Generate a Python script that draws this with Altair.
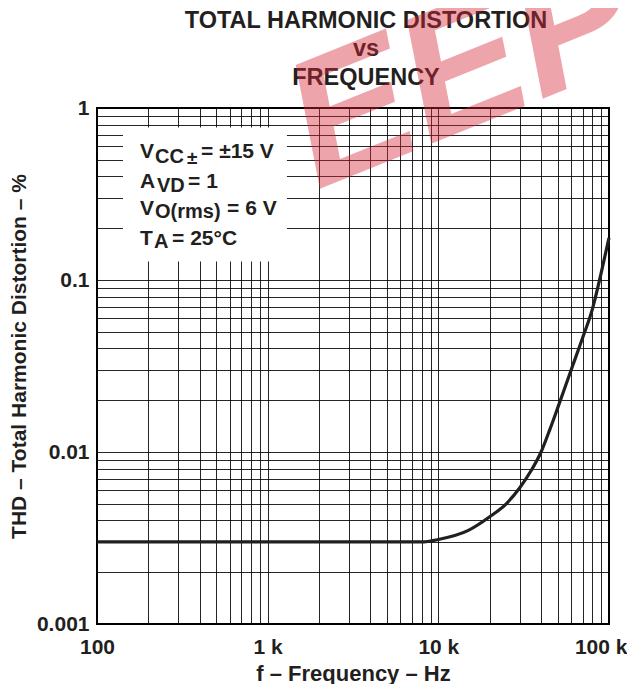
import altair as alt
import pandas as pd

# ---- data ----
freq = [100, 1000, 5000, 8000, 10000, 15000, 20000, 25000, 30000, 35000,
        40000, 45000, 50000, 60000, 70000, 80000, 90000, 100000]
thd = [0.003, 0.003, 0.003, 0.003, 0.0031, 0.0035, 0.0042, 0.005, 0.0062, 0.0078,
       0.0100, 0.0135, 0.018, 0.030, 0.046, 0.068, 0.11, 0.176]

x_major = [100, 1000, 10000, 100000]
x_major_labels = ["100", "1 k", "10 k", "100 k"]
y_major = [0.001, 0.01, 0.1, 1]
y_major_labels = ["0.001", "0.01", "0.1", "1"]

x_grid = [m * 10 ** d for d in range(2, 5) for m in range(1, 10)] + [100000]
y_grid = [m * 10.0 ** d for d in range(-3, 0) for m in range(1, 10)] + [1]

title_lines = ["TOTAL HARMONIC DISTORTION", "vs", "FREQUENCY"]
x_title = "f \u2013 Frequency \u2013 Hz"
y_title = "THD \u2013 Total Harmonic Distortion \u2013 %"

# annotation box (data coords) and text segments
box = pd.DataFrame({"f1": [142], "f2": [1297], "v1": [0.128], "v2": [0.77]})
ann_f = 178.7
ann_lines_v = [0.512, 0.343, 0.239, 0.1598]
# (line index, text, dx, dy, size)
ann_segments = [
    (0, "V", 0, 0, 21), (0, "CC", 15, 5, 20), (0, "\u00b1", 47, 6, 19), (0, "= \u00b115 V", 61, 0, 21),
    (1, "A", 0, 0, 21), (1, "VD", 17, 4, 20), (1, "= 1", 48, 0, 21),
    (2, "V", 0, 0, 21), (2, "O(rms)", 15, 3, 20), (2, "= 6 V", 87, 0, 21),
    (3, "T", 0, 0, 21), (3, "A", 14, 3, 20), (3, "= 25\u00b0C", 32, 0, 21),
]

FONT = "Liberation Sans"
INK = "#231f20"

def expr_labels(vals, labs):
    e = "''"
    for v, l in zip(vals, labs):
        e = f"abs(datum.value - {v}) < {v}*1e-6 ? '{l}' : ({e})"
    return e

df = pd.DataFrame({"f": freq, "thd": thd})

xscale = alt.Scale(type="log", domain=[100, 100000], nice=False)
yscale = alt.Scale(type="log", domain=[0.001, 1], nice=False)

last_x = "datum.value >= 99999"
base_x = alt.X("f:Q", scale=xscale, axis=alt.Axis(
    values=x_grid, labelExpr=expr_labels(x_major, x_major_labels), grid=True,
    ticks=False, domain=False, title=x_title, labelFont=FONT, labelFontSize=21,
    labelFontWeight="bold", labelColor=INK, labelPadding=12, labelFlush=False,
    labelAlign={"condition": {"test": last_x, "value": "right"}, "value": "center"},
    labelOffset={"condition": {"test": last_x, "value": 18}, "value": 0},
    labelOverlap=False, titleFont=FONT, titleFontSize=22, titleFontWeight="bold",
    titleColor=INK, titlePadding=6, gridColor="#000000", gridOpacity=0.85, gridWidth=1))
base_y = alt.Y("thd:Q", scale=yscale, axis=alt.Axis(
    values=y_grid, labelExpr=expr_labels(y_major, y_major_labels), grid=True,
    ticks=False, domain=False, title=y_title, labelFont=FONT, labelFontSize=21,
    labelFontWeight="bold", labelColor=INK, labelPadding=8, labelFlush=False,
    labelOverlap=False, titleFont=FONT, titleFontSize=21, titleFontWeight="bold",
    titleColor=INK, titlePadding=7, titleY=248,
    gridColor="#000000", gridOpacity=0.85, gridWidth=1))

line = alt.Chart(df).mark_line(color=INK, strokeWidth=3.2, interpolate="monotone").encode(
    x=base_x, y=base_y)

rect = alt.Chart(box).mark_rect(color="white", opacity=1).encode(
    x=alt.X("f1:Q", scale=xscale), x2="f2:Q",
    y=alt.Y("v1:Q", scale=yscale), y2="v2:Q")

layers = [line, rect]
for (li, txt, dx, dy, size) in ann_segments:
    d = pd.DataFrame({"f": [ann_f], "v": [ann_lines_v[li]], "t": [txt]})
    layers.append(alt.Chart(d).mark_text(
        align="left", baseline="alphabetic", dx=dx, dy=dy, font=FONT,
        fontSize=size, fontWeight="bold", color=INK).encode(
        x=alt.X("f:Q", scale=xscale), y=alt.Y("v:Q", scale=yscale), text="t:N"))

# chart title drawn as text above the plot
title_y = [-80, -52, -23]
for txt, ty in zip(title_lines, title_y):
    d = pd.DataFrame({"t": [txt]})
    layers.append(alt.Chart(d).mark_text(
        align="center", baseline="alphabetic", font=FONT, fontSize=23.5,
        fontWeight="bold", color=INK).encode(
        x=alt.value(269), y=alt.value(ty), text="t:N"))

# watermark
wm = pd.DataFrame({"t": ["EEPW"]})
layers.append(alt.Chart(wm).mark_text(
    align="left", baseline="alphabetic", angle=338, font=FONT, fontSize=180,
    fontWeight="bold", fontStyle="italic", color="#d8283a", opacity=0.42).encode(
    x=alt.value(220), y=alt.value(82), text="t:N"))

chart = alt.layer(*layers).properties(
    width=512, height=516,
    autosize=alt.AutoSizeParams(type="none"),
    padding={"left": 89, "top": 100, "right": 18, "bottom": 60},
).configure_view(stroke="#000000", strokeWidth=2)

chart.save("out.html", embed_options={"renderer": "svg", "actions": False})
